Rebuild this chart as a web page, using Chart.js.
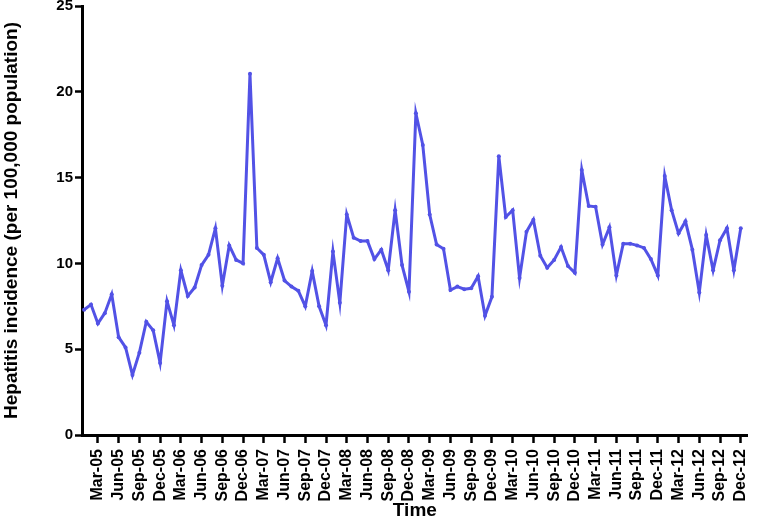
<!DOCTYPE html>
<html>
<head>
<meta charset="utf-8">
<script src="https://cdn.jsdelivr.net/npm/chart.js@4"></script>
<style>
  html, body { margin: 0; padding: 0; background: #fff; }
  #wrap { width: 766px; height: 522px; }
</style>
</head>
<body>
<div id="wrap"><canvas id="chart" width="766" height="522"></canvas></div>
<script>
// Meses y años del eje X (enero 2005 - diciembre 2012)
const months = ['Jan', 'Feb', 'Mar', 'Apr', 'May', 'Jun', 'Jul', 'Aug', 'Sep', 'Oct', 'Nov', 'Dec'];
const years = ['05', '06', '07', '08', '09', '10', '11', '12'];

// Incidencia mensual por año (por 100.000 habitantes)
const y2005 = [7.3, 7.6, 6.5, 7.1, 8.2, 5.7, 5.1, 3.5, 4.8, 6.6, 6.1, 4.2];
const y2006 = [7.8, 6.4, 9.6, 8.1, 8.6, 9.9, 10.5, 12.05, 8.7, 11.05, 10.2, 10.0];
const y2007 = [21.05, 10.9, 10.5, 8.9, 10.3, 9.0, 8.65, 8.4, 7.5, 9.55, 7.5, 6.4];
const y2008 = [10.7, 7.7, 12.85, 11.5, 11.3, 11.3, 10.25, 10.8, 9.6, 13.1, 9.9, 8.35];
const y2009 = [18.75, 16.9, 12.85, 11.1, 10.85, 8.45, 8.65, 8.5, 8.55, 9.25, 6.95, 8.05];
const y2010 = [16.25, 12.7, 13.1, 9.15, 11.85, 12.55, 10.45, 9.75, 10.2, 10.95, 9.85, 9.45];
const y2011 = [15.45, 13.35, 13.3, 11.1, 12.1, 9.3, 11.15, 11.15, 11.05, 10.9, 10.25, 9.3];
const y2012 = [15.1, 13.1, 11.75, 12.45, 10.8, 8.3, 11.65, 9.6, 11.35, 12.05, 9.6, 12.05];

// Ticks del eje Y
const yTicks = [0, 5, 10, 15, 20, 25];

const incidence = [...y2005, ...y2006, ...y2007, ...y2008, ...y2009, ...y2010, ...y2011, ...y2012];
const labels = [];
years.forEach(y => months.forEach(m => labels.push(`${m}-${y}`)));

// Solo se etiquetan los meses trimestrales (Mar, Jun, Sep, Dec)
const tickIndex = labels.map((_, i) => i).filter(i => i % 3 === 2);

const points = incidence.map((v, i) => ({ x: i, y: v }));
const lineColor = '#5252E6';
const axisFont = { family: '"Liberation Sans", Arial, sans-serif', weight: 'bold' };

new Chart(document.getElementById('chart'), {
  type: 'line',
  data: {
    datasets: [{
      data: points,
      borderColor: lineColor,
      backgroundColor: lineColor,
      borderWidth: 3,
      pointRadius: 2,
      pointBorderWidth: 0,
      tension: 0
    }]
  },
  options: {
    responsive: false,
    animation: false,
    layout: { padding: { top: 6, right: 2, bottom: 0, left: 0 } },
    plugins: { legend: { display: false }, tooltip: { enabled: false } },
    scales: {
      x: {
        type: 'linear',
        min: -0.3,
        max: 96.0,
        afterBuildTicks: scale => { scale.ticks = tickIndex.map(v => ({ value: v })); },
        afterFit: scale => { scale.height = 87; },
        ticks: {
          callback: value => labels[value],
          autoSkip: false,
          minRotation: 90,
          maxRotation: 90,
          padding: 6,
          color: '#000',
          font: { ...axisFont, size: 16 }
        },
        grid: { drawOnChartArea: false, tickLength: 8, tickWidth: 2.5, color: '#000' },
        border: { color: '#000', width: 3 },
        title: { display: true, text: 'Time', color: '#000', padding: 0, font: { ...axisFont, size: 19 } }
      },
      y: {
        min: 0,
        max: 25,
        afterBuildTicks: scale => { scale.ticks = yTicks.map(v => ({ value: v })); },
        afterFit: scale => { scale.width = 82; scale.paddingTop = 0; },
        ticks: { padding: 2, color: '#000', font: { ...axisFont, size: 15 } },
        grid: { drawOnChartArea: false, tickLength: 7, tickWidth: 2.5, color: '#000' },
        border: { color: '#000', width: 3 },
        title: {
          display: true,
          text: 'Hepatitis incidence (per 100,000 population)',
          color: '#000',
          padding: 0,
          font: { ...axisFont, size: 19 }
        }
      }
    }
  }
});
</script>
</body>
</html>
